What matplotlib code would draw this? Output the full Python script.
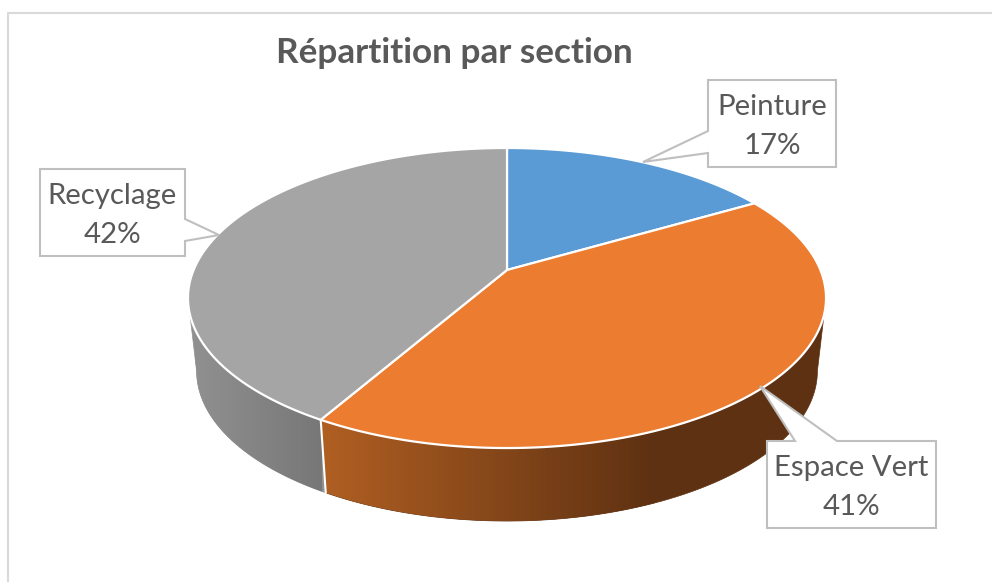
import numpy as np
import matplotlib
matplotlib.use('Agg')
import matplotlib.pyplot as plt
from matplotlib.patches import Polygon

categories = ['Peinture', 'Espace Vert', 'Recyclage']
shares = [17, 41, 42]
# unrounded slice sizes, estimated from the drawn angles
slice_values = [16.6, 41.7, 41.7]
top_colors = ['#5b9bd5', '#eb7c30', '#a5a5a5']

plt.rcParams['font.family'] = ['Lato', 'DejaVu Sans']

# pie geometry in image pixels (perspective view of a flat disc)
cx, cy = 507, 270
k = 0.1867
a, b = 313.4, 144.8
depth = 73
shrink = 0.973
text_col = '#595959'
box_col = '#bfbfbf'


def rim(theta):
    u, v = np.sin(theta), np.cos(theta)
    den = 1 + k * v
    return cx + a * u / den, cy - b * v / den


def floor(theta):
    x, y = rim(theta)
    return cx + shrink * (x - cx), y + depth


def gradient(start, stop, x0, x1, clip):
    xs = np.linspace(0, 1, 256)
    c0 = np.array(matplotlib.colors.to_rgb(start))
    c1 = np.array(matplotlib.colors.to_rgb(stop))
    img = (c0[None, None, :] * (1 - xs[None, :, None]) + c1[None, None, :] * xs[None, :, None])
    im = ax.imshow(img, extent=(x0, x1, 540, 280), aspect='auto', zorder=1, interpolation='bilinear')
    patch = Polygon(clip, closed=True, transform=ax.transData, fc='none', ec='none')
    ax.add_patch(patch)
    im.set_clip_path(patch)


fig = plt.figure(figsize=(9.92, 5.82), dpi=100, facecolor='white')
ax = fig.add_axes([0, 0, 1, 1])

fracs = np.cumsum([0] + slice_values) / sum(slice_values) * 2 * np.pi
edge_angle = np.arccos(-k)

# side walls, only the part facing the viewer
wall_styles = {1: ('#b05f22', '#5e3112', 322, 655), 2: ('#909090', '#777777', 195, 322)}
for i, (c0, c1, x0, x1) in wall_styles.items():
    t = np.linspace(max(fracs[i], edge_angle), min(fracs[i + 1], 2 * np.pi - edge_angle), 200)
    xt, yt = rim(t)
    xb, yb = floor(t)
    pts = np.column_stack([np.r_[xt, xb[::-1]], np.r_[yt, yb[::-1]]])
    ax.fill(pts[:, 0], pts[:, 1], color=c1 if i == 1 else c0, zorder=0.5, lw=0.5)
    gradient(c0, c1, x0, x1, pts)

# seam between the two visible walls
seam = fracs[2]
ax.plot([rim(seam)[0], floor(seam)[0]], [rim(seam)[1], floor(seam)[1]], color='white', lw=1.5, zorder=2)

# top of the pie
for i in range(len(slice_values)):
    t = np.linspace(fracs[i], fracs[i + 1], 200)
    x, y = rim(t)
    ax.add_patch(Polygon(np.column_stack([np.r_[cx, x], np.r_[cy, y]]), closed=True,
                         fc=top_colors[i], ec='white', lw=1.6, joinstyle='round', zorder=3))

# callout labels: box (x0, y0, x1, y1), tail base and tip
boxes = [(708, 80, 836, 167), (767, 441, 936, 528), (40, 169, 185, 256)]
tails = [[(708, 153), (643, 162), (708, 131)],
         [(795, 441), (760, 386), (837, 441)],
         [(185, 219), (219, 235), (185, 241)]]
edges = [3, 0, 1]  # side of the box carrying the tail: 0 top, 1 right, 3 left

for name, pct, box, tail, side in zip(categories, shares, boxes, tails, edges):
    x0, y0, x1, y1 = box
    if side == 0:
        pts = [(x0, y0)] + tail + [(x1, y0), (x1, y1), (x0, y1)]
    elif side == 1:
        pts = [(x0, y0), (x1, y0)] + tail + [(x1, y1), (x0, y1)]
    else:
        pts = [(x0, y0), (x1, y0), (x1, y1), (x0, y1)] + tail
    ax.add_patch(Polygon(pts, closed=True, fc='white', ec=box_col, lw=1.5, joinstyle='miter', zorder=4))
    ax.text((x0 + x1) / 2, y0 + 27, name, ha='center', va='center', fontsize=21.2, color=text_col, zorder=5)
    ax.text((x0 + x1) / 2, y0 + 66, f'{pct}%', ha='center', va='center', fontsize=21.2, color=text_col, zorder=5)

ax.text(454.5, 53, 'Répartition par section', ha='center', va='center', fontsize=25.3,
        fontweight='bold', color=text_col, zorder=5)

# chart frame, only top and left are in the crop
ax.plot([7.5, 7.5, 992], [582, 13, 13], color='#d9d9d9', lw=1.5, zorder=0)

ax.set_xlim(0, 992)
ax.set_ylim(582, 0)
ax.axis('off')

fig.savefig('out.png', dpi=100, facecolor='white')
